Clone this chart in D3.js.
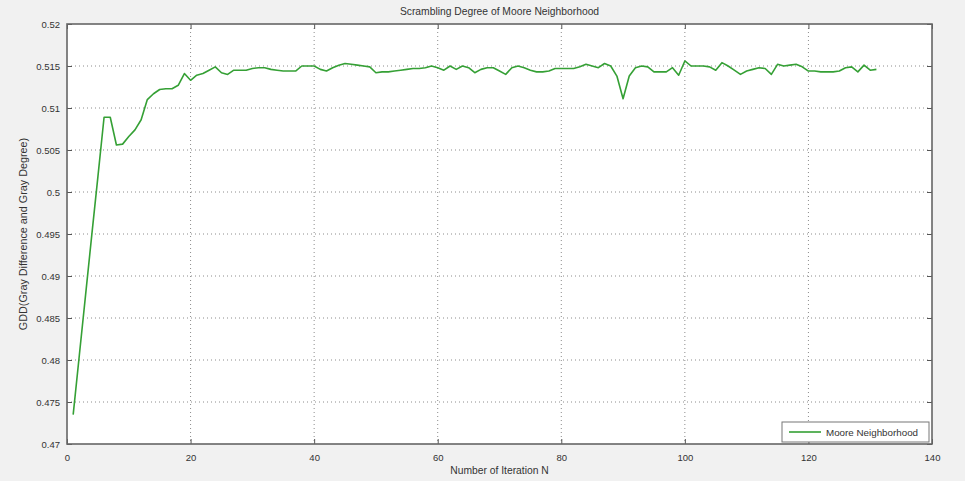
<!DOCTYPE html>
<html>
<head>
<meta charset="utf-8">
<script src="https://cdn.jsdelivr.net/npm/d3@7"></script>
<style>
  html, body { margin: 0; padding: 0; background: #f1f1f1; }
  svg { display: block; }
  text { font-family: "Liberation Sans", Arial, sans-serif; fill: #333; }
</style>
</head>
<body>
<svg id="chart" width="965" height="481"></svg>
<script>
// Scrambling degree (GDD) per iteration for the Moore neighborhood
const iterations = d3.range(1, 132);
const gddValues = [
  0.4735, 0.4806, 0.4877, 0.4948, 0.5018, 0.5089, 0.5089, 0.5056, 0.5057, 0.5066,
  0.5074, 0.5086, 0.5110, 0.5117, 0.5122, 0.5123, 0.5123, 0.5127, 0.5141, 0.5133,
  0.5139, 0.5141, 0.5145, 0.5149, 0.5142, 0.5140, 0.5145, 0.5145, 0.5145, 0.5147,
  0.5148, 0.5148, 0.5146, 0.5145, 0.5144, 0.5144, 0.5144, 0.5150, 0.5150, 0.5150,
  0.5146, 0.5144, 0.5148, 0.5151, 0.5153, 0.5152, 0.5151, 0.5150, 0.5149, 0.5142,
  0.5143, 0.5143, 0.5144, 0.5145, 0.5146, 0.5147, 0.5147, 0.5148, 0.5150, 0.5148,
  0.5145, 0.5150, 0.5146, 0.5150, 0.5148, 0.5142, 0.5146, 0.5148, 0.5148, 0.5144,
  0.5140, 0.5148, 0.5150, 0.5148, 0.5145, 0.5143, 0.5143, 0.5144, 0.5147, 0.5147,
  0.5147, 0.5147, 0.5149, 0.5152, 0.5150, 0.5148, 0.5153, 0.5150, 0.5138, 0.5111,
  0.5138, 0.5148, 0.5150, 0.5149, 0.5143, 0.5143, 0.5143, 0.5148, 0.5139, 0.5156,
  0.5150, 0.5150, 0.5150, 0.5149, 0.5145, 0.5154, 0.5150, 0.5145, 0.5140, 0.5144,
  0.5146, 0.5148, 0.5147, 0.5140, 0.5152, 0.5150, 0.5151, 0.5152, 0.5149, 0.5144,
  0.5144, 0.5143, 0.5143, 0.5143, 0.5144, 0.5148, 0.5149, 0.5143, 0.5151, 0.5145,
  0.5146
];
const xTicks = [0, 20, 40, 60, 80, 100, 120, 140];
const yTicks = [0.47, 0.475, 0.48, 0.485, 0.49, 0.495, 0.5, 0.505, 0.51, 0.515, 0.52];
const yTickLabels = ["0.47", "0.475", "0.48", "0.485", "0.49", "0.495", "0.5", "0.505", "0.51", "0.515", "0.52"];
const seriesName = "Moore Neighborhood";
const titleText = "Scrambling Degree of Moore Neighborhood";
const xLabelText = "Number of Iteration N";
const yLabelText = "GDD(Gray Difference and Gray Degree)";

const svg = d3.select("#chart");
const margin = { left: 67, right: 33, top: 24, bottom: 37 };
const W = 965, H = 481;
const plotW = W - margin.left - margin.right;
const plotH = H - margin.top - margin.bottom;

const x = d3.scaleLinear().domain([0, 140]).range([0, plotW]);
const y = d3.scaleLinear().domain([0.47, 0.52]).range([plotH, 0]);

const g = svg.append("g").attr("transform", `translate(${margin.left},${margin.top})`);

// white axes background
g.append("rect").attr("width", plotW).attr("height", plotH).attr("fill", "#fff");

// dotted grid
g.append("g").selectAll("line").data(xTicks.slice(1, -1)).join("line")
  .attr("x1", d => x(d)).attr("x2", d => x(d)).attr("y1", 0).attr("y2", plotH)
  .attr("stroke", "#8c8c8c").attr("stroke-width", 1).attr("stroke-dasharray", "1,3");
g.append("g").selectAll("line").data(yTicks.slice(1, -1)).join("line")
  .attr("x1", 0).attr("x2", plotW).attr("y1", d => y(d)).attr("y2", d => y(d))
  .attr("stroke", "#8c8c8c").attr("stroke-width", 1).attr("stroke-dasharray", "1,3");

// axes with inward ticks (bottom/left labelled, top/right tick-only)
const fmtY = d => yTickLabels[yTicks.indexOf(d)];
const axisB = g.append("g").attr("transform", `translate(0,${plotH})`)
  .call(d3.axisBottom(x).tickValues(xTicks).tickSizeInner(-5).tickSizeOuter(0).tickPadding(10));
const axisL = g.append("g")
  .call(d3.axisLeft(y).tickValues(yTicks).tickFormat(fmtY).tickSizeInner(-5).tickSizeOuter(0).tickPadding(7));
const axisT = g.append("g")
  .call(d3.axisTop(x).tickValues(xTicks).tickSizeInner(-5).tickSizeOuter(0).tickFormat(""));
const axisR = g.append("g").attr("transform", `translate(${plotW},0)`)
  .call(d3.axisRight(y).tickValues(yTicks).tickSizeInner(-5).tickSizeOuter(0).tickFormat(""));
[axisB, axisL, axisT, axisR].forEach(a => {
  a.select(".domain").remove();
  a.selectAll(".tick line").attr("stroke", "#555");
  a.selectAll(".tick text").attr("font-size", 9.5).attr("fill", "#333")
    .attr("font-family", "Liberation Sans, Arial, sans-serif");
});

// data line
const line = d3.line().x((d, i) => x(iterations[i])).y(d => y(d));
g.append("path").datum(gddValues)
  .attr("fill", "none").attr("stroke", "#35a035").attr("stroke-width", 1.6)
  .attr("stroke-linejoin", "round").attr("d", line);

// axes box
g.append("rect").attr("width", plotW).attr("height", plotH)
  .attr("fill", "none").attr("stroke", "#666").attr("stroke-width", 1.6);

// legend
const lg = g.append("g").attr("transform", `translate(${plotW - 150},${plotH - 22})`);
lg.append("rect").attr("width", 147).attr("height", 20)
  .attr("fill", "#fff").attr("stroke", "#777").attr("stroke-width", 1);
lg.append("line").attr("x1", 7).attr("x2", 39).attr("y1", 10).attr("y2", 10)
  .attr("stroke", "#35a035").attr("stroke-width", 1.6);
lg.append("text").attr("x", 44).attr("y", 13.5).attr("font-size", 9.8).text(seriesName);

// title and axis labels
svg.append("text").attr("x", margin.left + plotW / 2).attr("y", 15)
  .attr("text-anchor", "middle").attr("font-size", 10.3).text(titleText);
svg.append("text").attr("x", margin.left + plotW / 2).attr("y", 474)
  .attr("text-anchor", "middle").attr("font-size", 10.3).text(xLabelText);
svg.append("text").attr("transform", `translate(27,${margin.top + plotH / 2}) rotate(-90)`)
  .attr("text-anchor", "middle").attr("font-size", 10.8).text(yLabelText);
</script>
</body>
</html>
